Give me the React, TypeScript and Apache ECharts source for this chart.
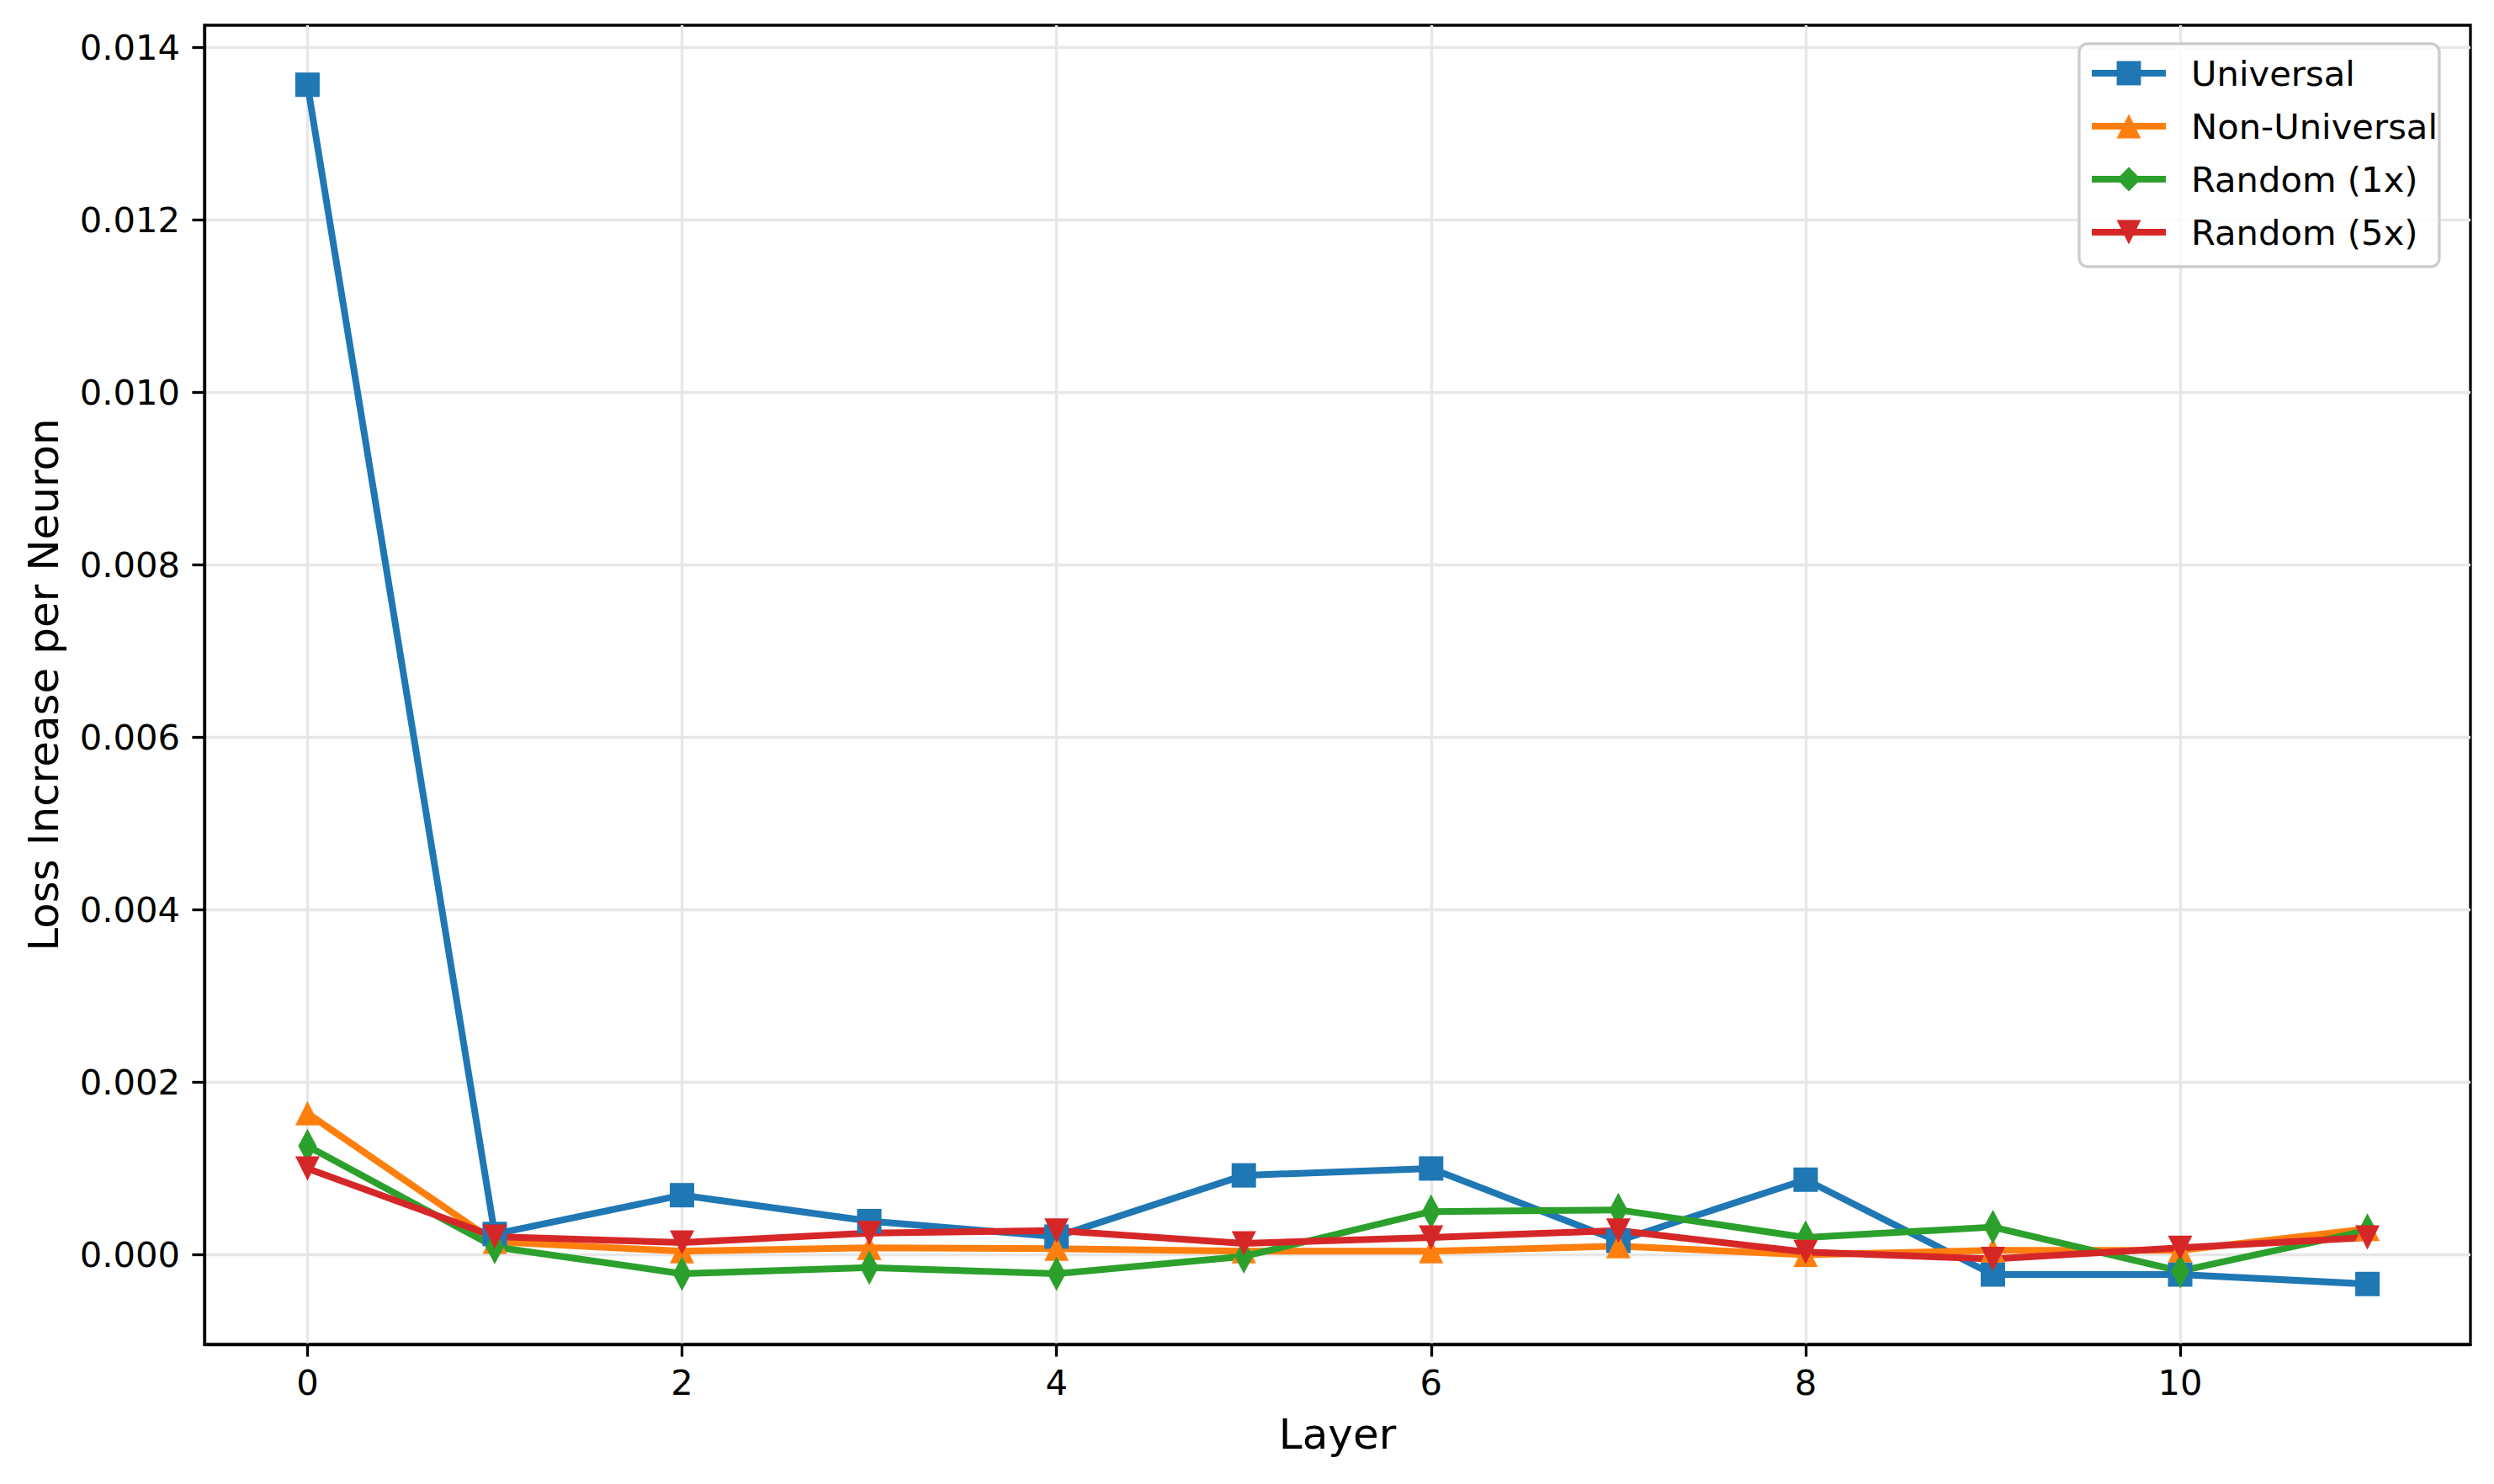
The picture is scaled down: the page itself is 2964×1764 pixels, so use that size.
import React, { useEffect, useRef } from "react";
import * as echarts from "echarts";

const layers = [0, 1, 2, 3, 4, 5, 6, 7, 8, 9, 10, 11];
const universal = [0.01357, 0.00024, 0.00069, 0.00039, 0.00021, 0.00092, 0.001, 0.00016, 0.00087, -0.00023, -0.00023, -0.00034];
const nonUniversal = [0.00164, 0.00015, 0.00004, 0.00008, 0.00007, 0.00004, 0.00004, 0.0001, 0.0, 0.00005, 0.00005, 0.0003];
const random1x = [0.00126, 0.00009, -0.00022, -0.00015, -0.00022, -0.00002, 0.0005, 0.00052, 0.0002, 0.00032, -0.00019, 0.00028];
const random5x = [0.001, 0.00021, 0.00014, 0.00025, 0.00028, 0.00013, 0.0002, 0.00028, 0.00003, -0.00005, 0.00008, 0.0002];

const xTicks = [0, 2, 4, 6, 8, 10];
const yTicks = [0, 0.002, 0.004, 0.006, 0.008, 0.01, 0.012, 0.014];

const seriesNames = ["Universal", "Non-Universal", "Random (1x)", "Random (5x)"];
const colors = ["#1f77b4", "#ff7f0e", "#2ca02c", "#d62728"];

const FONT = "DejaVu Sans";

export default function App() {
  const ref = useRef<HTMLDivElement>(null);
  useEffect(() => {
    if (!ref.current) return;
    const chart = echarts.init(ref.current, null, { renderer: "svg" });
    const pairs = (vals: number[]) => layers.map((x, i) => [x, vals[i]]);
    const mk = (name: string, vals: number[], color: string, symbol: string, size: any, rotate = 0) => ({
      name,
      type: "line",
      data: pairs(vals),
      symbol,
      symbolSize: size,
      symbolRotate: rotate,
      showAllSymbol: true,
      lineStyle: { color, width: 8 },
      itemStyle: { color, borderWidth: 0 },
      emphasis: { disabled: true },
    });
    chart.setOption({
      animation: false,
      backgroundColor: "#ffffff",
      textStyle: { fontFamily: FONT },
      grid: {
        left: 243,
        top: 30,
        right: 28,
        bottom: 166,
        show: true,
        borderColor: "#000",
        borderWidth: 3.3,
        backgroundColor: "transparent",
      },
      xAxis: {
        type: "value",
        min: -0.55,
        max: 11.55,
        name: "Layer",
        nameLocation: "middle",
        nameGap: 82,
        nameTextStyle: { fontSize: 50, color: "#000", fontFamily: FONT },
        axisLine: { show: true, onZero: false, lineStyle: { color: "#000", width: 3.3 } },
        axisTick: { show: true, length: 14.6, lineStyle: { color: "#000", width: 3.3 }, customValues: xTicks },
        axisLabel: { fontSize: 41.7, color: "#000", margin: 24, fontFamily: FONT, customValues: xTicks },
        splitLine: { show: true, lineStyle: { color: "#e7e7e7", width: 3.3 } },
      },
      yAxis: {
        type: "value",
        min: -0.00104,
        max: 0.01426,
        name: "Loss Increase per Neuron",
        nameLocation: "middle",
        nameGap: 166,
        nameTextStyle: { fontSize: 50, color: "#000", fontFamily: FONT },
        axisLine: { show: true, onZero: false, lineStyle: { color: "#000", width: 3.3 } },
        axisTick: { show: true, length: 14.6, lineStyle: { color: "#000", width: 3.3 }, customValues: yTicks },
        axisLabel: {
          fontSize: 41.7,
          color: "#000",
          margin: 29,
          fontFamily: FONT,
          customValues: yTicks,
          formatter: (v: number) => v.toFixed(3),
        },
        splitLine: { show: true, lineStyle: { color: "#e7e7e7", width: 3.3 } },
      },
      legend: {
        left: 2471,
        top: 52,
        orient: "vertical",
        data: seriesNames,
        itemWidth: 88,
        itemHeight: 36,
        itemGap: 21,
        padding: [14, 2, 20, 11],
        backgroundColor: "rgba(255,255,255,0.8)",
        borderColor: "#cccccc",
        borderWidth: 3.3,
        borderRadius: 10,
        lineStyle: { width: 8 },
        textStyle: { fontSize: 41.7, color: "#000", fontFamily: FONT, padding: [0, 0, 0, 25] },
      },
      series: [
        mk(seriesNames[0], universal, colors[0], "rect", 29),
        mk(seriesNames[1], nonUniversal, colors[1], "triangle", 29),
        mk(seriesNames[2], random1x, colors[2], "diamond", [22, 41]),
        mk(seriesNames[3], random5x, colors[3], "triangle", 29, 180),
      ],
    });
    return () => chart.dispose();
  }, []);
  return (
    <div
      ref={ref}
      style={{ position: "absolute", left: 0, top: 0, width: 2964, height: 1764, background: "#fff" }}
    />
  );
}
